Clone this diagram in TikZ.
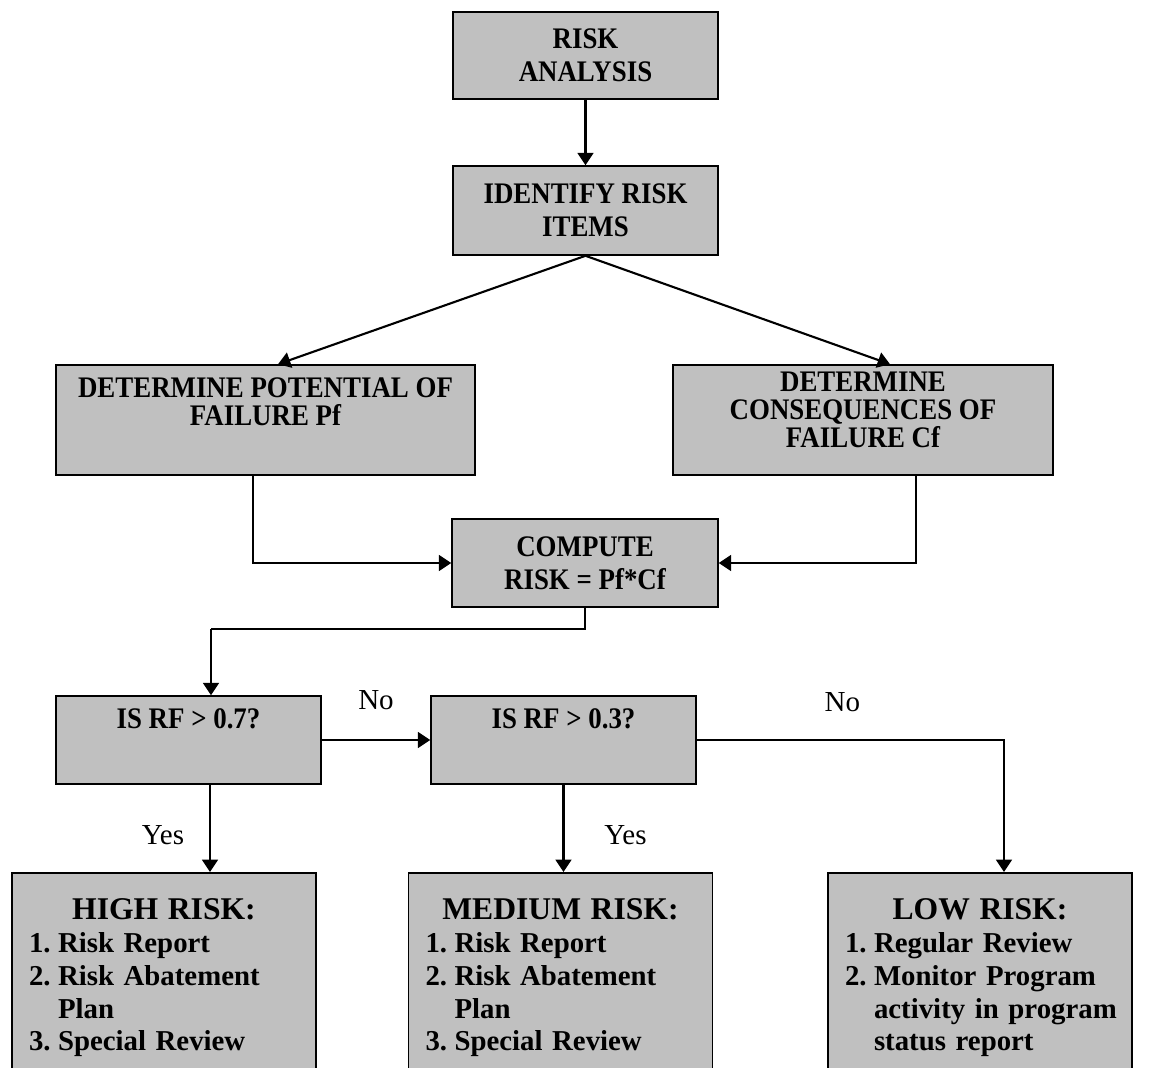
\documentclass[tikz,border=0pt]{standalone}
\usepackage{fontspec}
\setmainfont{Liberation Serif}
\newfontfamily\narrowserif[FakeStretch=0.9]{Liberation Serif}
\usetikzlibrary{arrows.meta, positioning, calc}
\definecolor{boxgray}{HTML}{C0C0C0}

% one item of an action list, with a hanging number
\newcommand{\actitem}[2]{\par\hangindent=0.58cm\hangafter=1\noindent
  \makebox[0.58cm][l]{#1}#2\par}

\begin{document}
\begin{tikzpicture}[x=0.02cm, y=-0.02cm,
    stage/.style  = {draw, line width=0.9pt, fill=boxgray, align=center,
                     inner sep=0pt, font=\narrowserif\fontsize{17}{19}\selectfont\bfseries},
    tight/.style  = {font=\narrowserif\fontsize{17}{16}\selectfont\bfseries},
    action/.style = {draw, line width=0.9pt, fill=boxgray, anchor=north,
                     minimum width=6.08cm, minimum height=4.2cm,
                     text width=5.4cm, align=left, inner ysep=0.3cm,
                     font=\fontsize{16.4}{18.7}\selectfont\bfseries},
    lbl/.style    = {font=\fontsize{16.5}{18}\selectfont},
    flow/.style   = {-{Triangle[length=7pt, width=9pt]}, line width=1.2pt},
    link/.style   = {line width=1.2pt},
]

% fixed canvas, same size as the reference
\useasboundingbox (0,0) rectangle (1160,1068);

% --- analysis chain -----------------------------------------------------
\node[stage, minimum width=5.3cm, minimum height=1.74cm] (analysis) at (585.5,55.5)
      {RISK\\ANALYSIS};
\node[stage, minimum width=5.3cm, minimum height=1.78cm] (identify) at (585.5,210.5)
      {IDENTIFY RISK\\ITEMS};
\node[stage, tight, minimum width=8.38cm, minimum height=2.2cm] (potential) at (265.5,420)
      {DETERMINE POTENTIAL OF\\FAILURE Pf\\\strut};
\node[stage, tight, minimum width=7.6cm, minimum height=2.2cm] (conseq) at (863,420)
      {DETERMINE\\CONSEQUENCES OF\\FAILURE Cf\rule[-0.4cm]{0pt}{0pt}};
\node[stage, minimum width=5.32cm, minimum height=1.76cm] (compute) at (585,563)
      {COMPUTE\\RISK = Pf*Cf};

% --- decisions ----------------------------------------------------------
\node[stage, minimum width=5.3cm, minimum height=1.76cm] (high7) at (188.5,740)
      {IS RF > 0.7?\\\strut};
\node[stage, minimum width=5.3cm, minimum height=1.76cm] (med3) at (563.5,740)
      {IS RF > 0.3?\\\strut};

% --- outcomes -----------------------------------------------------------
\node[action] (highrisk) at (164,872)
      {{\centering\fontsize{18}{18.7}\selectfont HIGH RISK:\par}
       \actitem{1.}{Risk Report}
       \actitem{2.}{\mbox{Risk Abatement}\newline Plan}
       \actitem{3.}{Special Review}};
\node[action] (medrisk) at (560.5,872)
      {{\centering\fontsize{18}{18.7}\selectfont MEDIUM RISK:\par}
       \actitem{1.}{Risk Report}
       \actitem{2.}{\mbox{Risk Abatement}\newline Plan}
       \actitem{3.}{Special Review}};
\node[action] (lowrisk) at (980,872)
      {{\centering\fontsize{18}{18.7}\selectfont LOW RISK:\par}
       \actitem{1.}{Regular Review}
       \actitem{2.}{\mbox{Monitor Program}\newline \mbox{activity in program}\newline
                    \mbox{status report}}};

% --- connectors ---------------------------------------------------------
\draw[flow] (analysis) -- (identify);
\draw[flow] (identify.south) -- ([xshift=0.25cm]potential.north);
\draw[flow] (identify.south) -- ([xshift=0.54cm]conseq.north);
\draw[flow] ([xshift=-0.25cm]potential.south) |- (compute.west);
\draw[flow] ([xshift=1.06cm]conseq.south) |- (compute.east);

\coordinate (split) at (211,629);
\draw[link] (compute.south) |- (split);
\draw[flow] (split) -- (split |- high7.north);

\draw[flow] (high7.east) -- node[lbl, midway, yshift=0.8cm] {No} (med3.west);
\draw[flow] (med3.east) -| node[lbl, pos=0.237, yshift=0.76cm] {No}
      ([xshift=0.48cm]lowrisk.north);
\draw[flow] ([xshift=0.43cm]high7.south) --
      node[lbl, midway, xshift=-0.94cm, yshift=-0.14cm] {Yes}
      ([xshift=0.43cm]high7.south |- highrisk.north);
\draw[flow] (med3.south) --
      node[lbl, midway, xshift=1.24cm, yshift=-0.14cm] {Yes}
      (med3.south |- medrisk.north);

\end{tikzpicture}
\end{document}
